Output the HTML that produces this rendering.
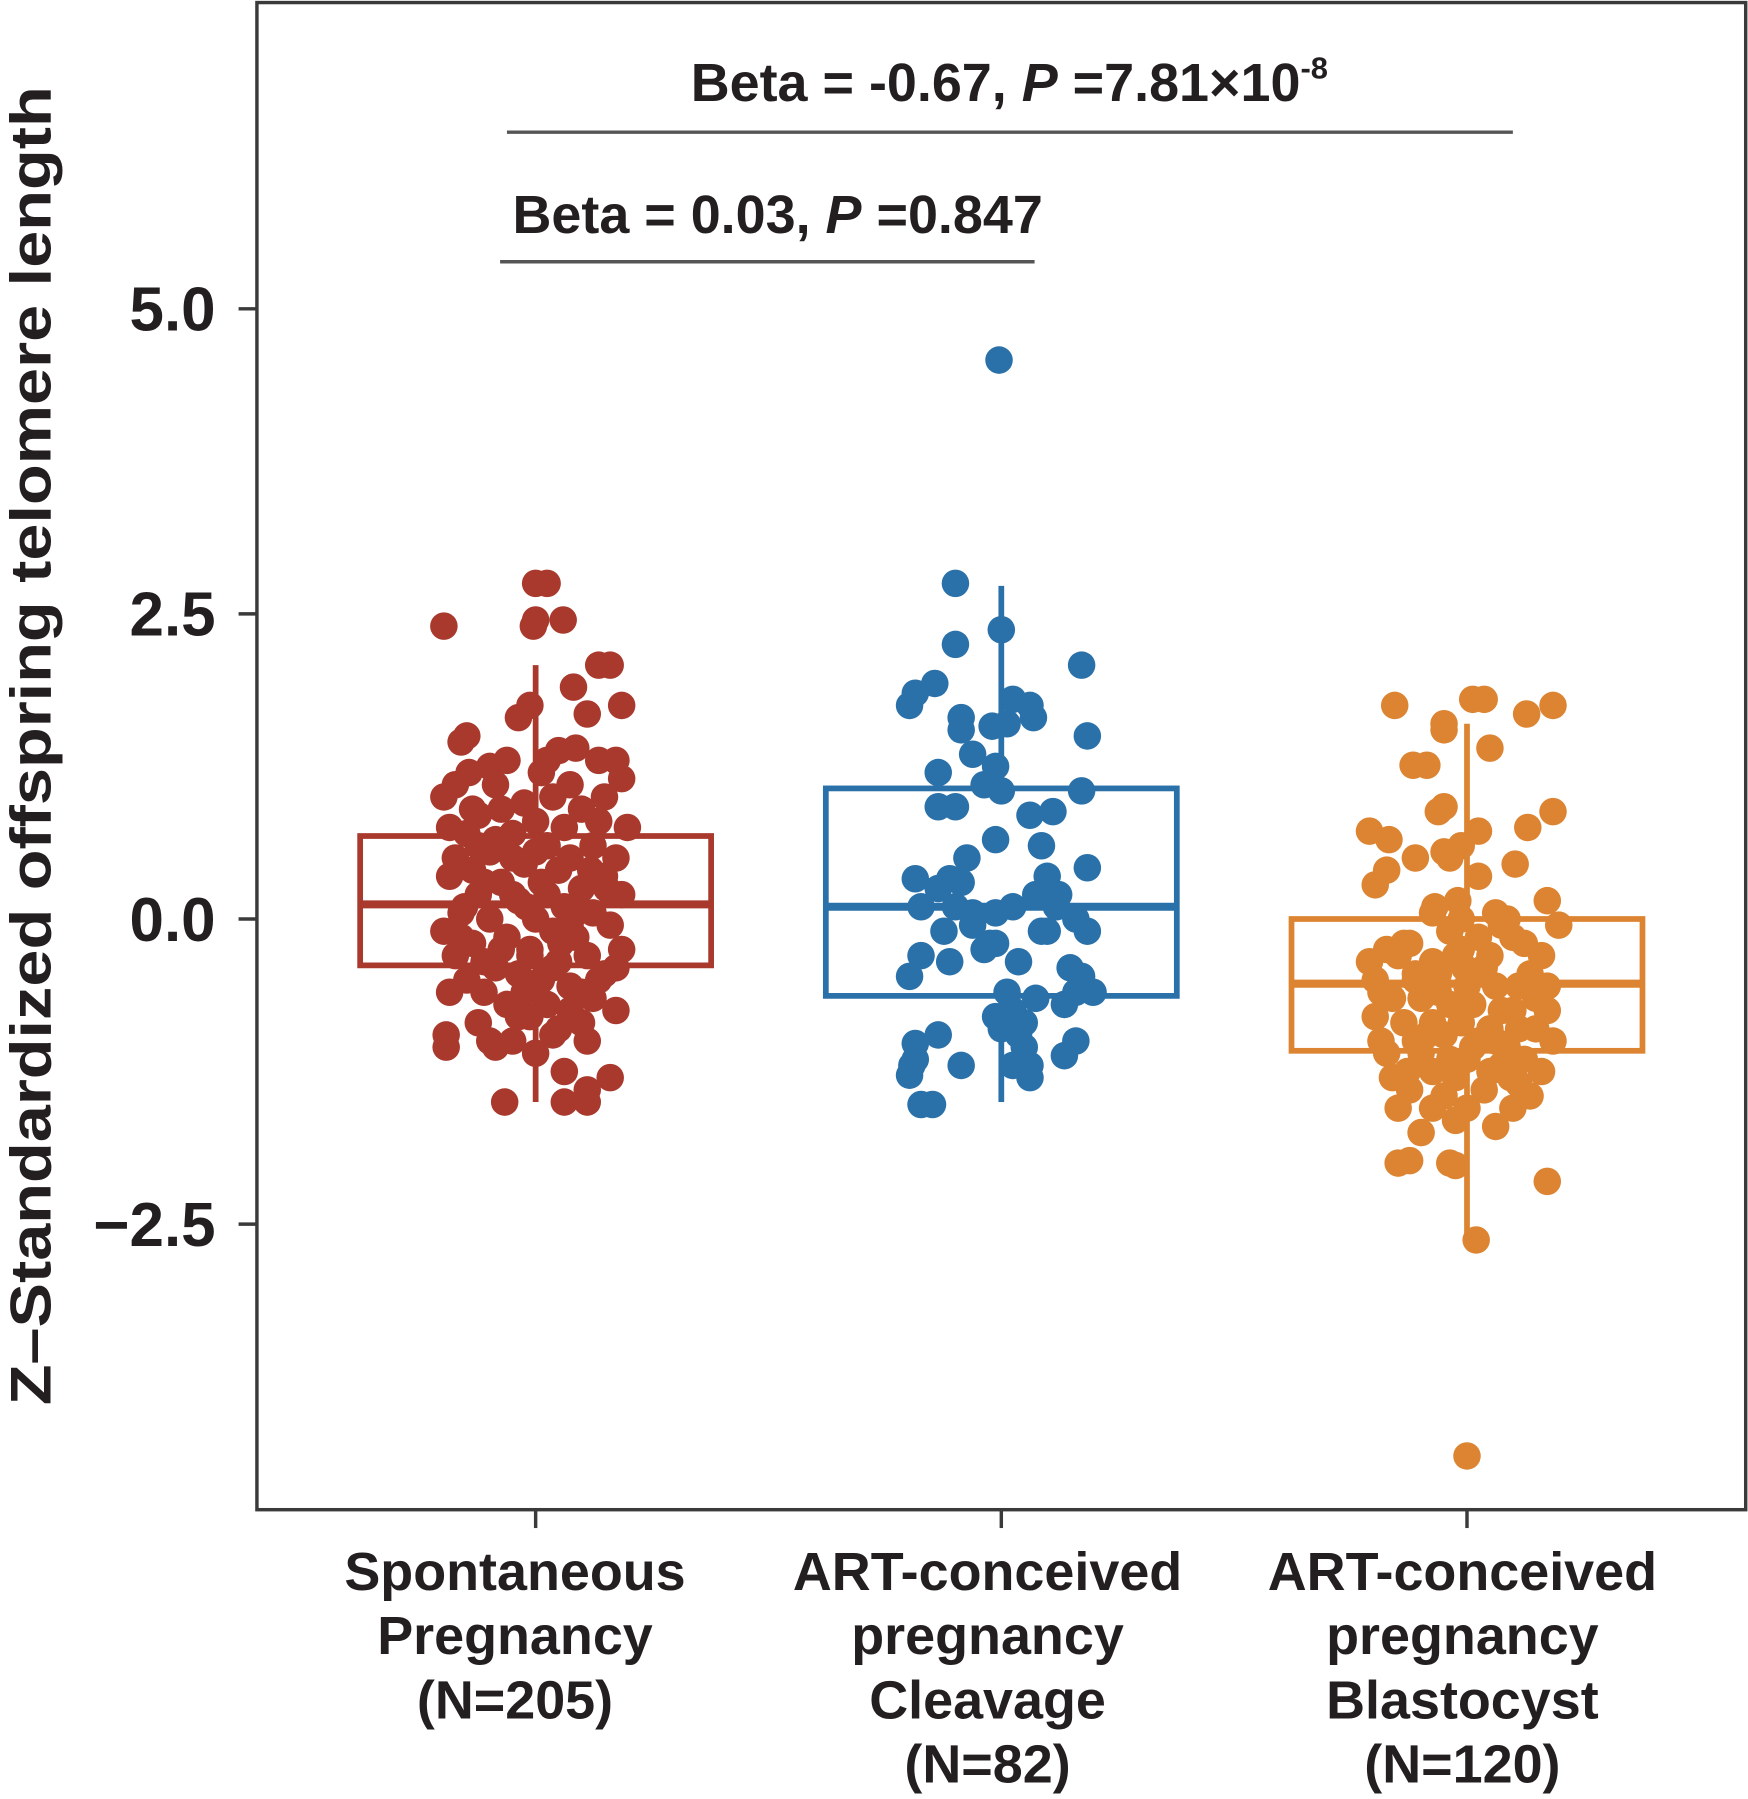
<!DOCTYPE html>
<html><head><meta charset="utf-8"><style>
html,body{margin:0;padding:0;background:#fff}
svg{display:block}
text{font-family:"Liberation Sans",Arial,sans-serif;font-weight:bold;fill:#231f20}
</style></head><body>
<svg id="chart" width="1748" height="1799" viewBox="0 0 1524 1568" xmlns="http://www.w3.org/2000/svg">
<rect x="224" y="2" width="1298" height="1314" fill="none" stroke="#3a3a3a" stroke-width="3"/>
<g id="yaxis"></g>
<g id="xaxis"></g>
<text transform="translate(44,650) rotate(-90)" text-anchor="middle" font-size="50" textLength="1150" lengthAdjust="spacingAndGlyphs">Z–Standardized offspring telomere length</text>
<g id="boxes"></g>
<g id="points"></g>
<g>
<line x1="442" y1="115" x2="1319" y2="115" stroke="#555" stroke-width="3"/>
<text x="880" y="88" text-anchor="middle" font-size="47">Beta = -0.67, <tspan font-style="italic">P</tspan> =7.81×10<tspan font-size="27" dy="-20">-8</tspan></text>
<line x1="436" y1="228" x2="902" y2="228" stroke="#555" stroke-width="3"/>
<text x="678" y="203" text-anchor="middle" font-size="47">Beta = 0.03, <tspan font-style="italic">P</tspan> =0.847</text>
</g>
</svg>
<script>
const categories=[["Spontaneous","Pregnancy","(N=205)"],["ART-conceived","pregnancy","Cleavage","(N=82)"],["ART-conceived","pregnancy","Blastocyst","(N=120)"]];
const colors=["#a9392d","#2a70a9","#dc8432"];
const yTicks=[5.0,2.5,0.0,-2.5];
const yTickLabels=["5.0","2.5","0.0","−2.5"];
const q1=[-0.38,-0.63,-1.08];
const medians=[0.12,0.1,-0.53];
const q3=[0.68,1.07,0.0];
const whiskLo=[-1.5,-1.5,-2.6];
const whiskHi=[2.08,2.73,1.6];
const redPts=[[-80,2.4],[0,2.75],[10,2.75],[-2,2.4],[0,2.45],[24,2.45],[55,2.08],[65,2.08],[33,1.9],[75,1.75],[-5,1.75],[-15,1.65],[45,1.68],[-60,1.5],[-65,1.45],[35,1.4],[20,1.38],[70,1.3],[55,1.3],[-40,1.25],[-25,1.3],[-35,1.1],[75,1.15],[60,1.0],[-80,1.0],[-70,1.1],[15,1.0],[-10,0.95],[40,0.9],[-50,0.85],[0,0.8],[25,0.75],[80,0.75],[-75,0.75],[-60,0.7],[-20,0.7],[10,0.6],[50,0.6],[-40,0.55],[-70,0.5],[30,0.5],[70,0.5],[-10,0.45],[-55,0.4],[20,0.4],[60,0.35],[-75,0.35],[-30,0.3],[5,0.3],[40,0.25],[-50,0.2],[75,0.2],[-15,0.15],[25,0.1],[-65,0.05],[50,0.05],[0,0.0],[-40,0.0],[65,-0.05],[-80,-0.1],[15,-0.1],[35,-0.15],[-25,-0.15],[-55,-0.2],[75,-0.25],[-5,-0.25],[45,-0.3],[-70,-0.3],[20,-0.35],[-35,-0.4],[60,-0.45],[-15,-0.45],[5,-0.5],[-60,-0.5],[30,-0.55],[-45,-0.6],[-75,-0.6],[50,-0.65],[10,-0.7],[-25,-0.7],[70,-0.75],[-5,-0.8],[40,-0.85],[-50,-0.85],[20,-0.9],[-78,-0.95],[-78,-1.05],[-40,-1.0],[-35,-1.05],[45,-1.0],[0,-1.1],[15,-0.95],[-20,-1.0],[25,-1.25],[65,-1.3],[45,-1.4],[-27,-1.5],[25,-1.5],[45,-1.5],[-55,0.9],[55,0.8],[-20,0.5],[35,0.05],[-5,-0.3],[10,0.2],[-45,0.3],[-30,-0.25],[30,-0.05],[-10,-0.6],[55,-0.5],[-62,0.1],[-30,0.9],[5,1.2],[30,1.1],[-50,0.6],[62,0.25],[-20,0.2],[15,-0.4],[-45,-0.35],[40,-0.6],[-65,-0.15],[0,0.55],[70,-0.4],[-35,0.65],[48,0.4],[-15,-0.8],[30,-0.75],[-58,1.2],[10,1.3],[22,-0.2],[-8,0.1]];
const bluePts=[[-2,4.58],[-40,2.75],[0,2.37],[-40,2.25],[70,2.08],[-58,1.93],[-75,1.85],[-80,1.75],[10,1.8],[25,1.75],[-35,1.65],[28,1.65],[-35,1.55],[-8,1.58],[5,1.6],[75,1.5],[-25,1.35],[-5,1.25],[-55,1.2],[-15,1.1],[0,1.05],[70,1.05],[-55,0.92],[-40,0.92],[25,0.85],[45,0.88],[-5,0.65],[35,0.6],[75,0.42],[-75,0.33],[-45,0.33],[-55,0.25],[-35,0.3],[40,0.35],[30,0.2],[50,0.2],[-70,0.1],[-40,0.1],[-25,0.05],[-5,0.05],[10,0.1],[65,0.0],[-50,-0.1],[-25,-0.05],[75,-0.1],[40,-0.1],[-10,-0.2],[-5,-0.2],[-70,-0.3],[-45,-0.35],[15,-0.35],[60,-0.4],[-80,-0.47],[70,-0.47],[30,-0.65],[55,-0.7],[65,-0.6],[10,-0.75],[20,-0.85],[-5,-0.8],[0,-0.9],[15,-0.95],[-55,-0.95],[-75,-1.02],[20,-1.05],[65,-1.0],[-75,-1.15],[-35,-1.2],[10,-1.2],[25,-1.2],[55,-1.12],[-80,-1.28],[25,-1.3],[-60,-1.52],[-70,-1.52],[-78,-1.2],[-15,-0.25],[35,-0.1],[-30,0.5],[5,-0.6],[80,-0.6],[48,0.1]];
const orangePts=[[-63,1.75],[5,1.8],[15,1.8],[75,1.75],[52,1.68],[-20,1.6],[-20,1.55],[20,1.4],[-47,1.26],[-35,1.26],[-25,0.88],[-20,0.92],[10,0.72],[53,0.75],[75,0.88],[-85,0.72],[-68,0.65],[-45,0.5],[-20,0.55],[-15,0.5],[42,0.45],[-80,0.28],[-70,0.4],[10,0.35],[-5,0.6],[-30,0.05],[-5,0.0],[25,0.05],[35,0.0],[-15,-0.1],[30,-0.05],[70,0.15],[80,-0.05],[-50,-0.2],[-70,-0.25],[40,-0.15],[-85,-0.35],[-60,-0.3],[-30,-0.35],[-10,-0.3],[20,-0.3],[55,-0.45],[-80,-0.5],[-45,-0.5],[-25,-0.45],[0,-0.55],[25,-0.55],[60,-0.65],[-65,-0.65],[-40,-0.65],[-15,-0.7],[5,-0.7],[40,-0.75],[70,-0.75],[-80,-0.8],[-55,-0.85],[-30,-0.85],[-5,-0.85],[20,-0.9],[45,-0.9],[-75,-1.0],[-45,-1.0],[-20,-0.95],[10,-1.0],[35,-1.05],[75,-1.0],[-70,-1.1],[-40,-1.1],[0,-1.15],[30,-1.2],[65,-1.25],[-30,-1.25],[-10,-1.3],[45,-1.35],[-50,-1.4],[-20,-1.45],[15,-1.4],[55,-1.45],[-60,-1.55],[-30,-1.55],[0,-1.55],[40,-1.55],[-40,-1.75],[-10,-1.65],[25,-1.7],[-60,-2.0],[-50,-1.98],[-15,-2.0],[-10,-2.02],[70,-2.15],[8,-2.63],[0,-4.4],[-55,-0.2],[50,-0.2],[-25,-0.6],[15,-0.4],[65,-0.3],[-75,-0.6],[-5,-0.25],[30,-0.75],[-35,-0.95],[50,-1.15],[5,-1.05],[-65,-1.3],[25,-1.0],[-45,-0.45],[10,-0.15],[-15,-1.15],[45,-0.55],[70,-0.55],[-28,0.1],[-8,0.15],[20,-1.25],[-52,-1.25],[38,-1.3],[-2,-0.4],[60,-0.9]];
const groups=[redPts,bluePts,orangePts];
const labelShift=[-18,-12,-4];
const ns="http://www.w3.org/2000/svg";
const yScale=v=>801-v*106.4;
const xCenter=i=>467+i*406;
function mk(tag,attrs,parent){const e=document.createElementNS(ns,tag);for(const k in attrs)e.setAttribute(k,attrs[k]);parent.appendChild(e);return e;}
const yA=document.getElementById('yaxis'),xA=document.getElementById('xaxis'),bx=document.getElementById('boxes'),pt=document.getElementById('points');
yTicks.forEach((v,i)=>{
 const l=mk('line',{x1:208,x2:224,y1:yScale(v),y2:yScale(v),stroke:'#3a3a3a','stroke-width':3},yA);
 
 
 const t=mk('text',{x:188,y:yScale(v)+19,'text-anchor':'end','font-size':54},yA);
 
 
 t.textContent=yTickLabels[i];
});
categories.forEach((c,i)=>{
 const x=xCenter(i);
 const l=mk('line',{x1:x,x2:x,y1:1316,y2:1332,stroke:'#3a3a3a','stroke-width':3},xA);
 
 
 c.forEach((s,j)=>{
  const t=mk('text',{x:x+labelShift[i],y:1386+j*56,'text-anchor':'middle','font-size':47},xA);
  
  
  t.textContent=s;
 });
 const g=mk('g',{},bx);
 
 
 const st={stroke:colors[i],'stroke-width':5,fill:'none'};
 mk('line',Object.assign({x1:x,x2:x,y1:yScale(whiskHi[i]),y2:yScale(q3[i])},st),g);
 mk('line',Object.assign({x1:x,x2:x,y1:yScale(q1[i]),y2:yScale(whiskLo[i])},st),g);
 mk('rect',Object.assign({x:x-153,width:306,y:yScale(q3[i]),height:yScale(q1[i])-yScale(q3[i])},st),g);
 mk('line',Object.assign({x1:x-153,x2:x+153,y1:yScale(medians[i]),y2:yScale(medians[i])},st,{'stroke-width':7}),g);
 groups[i].forEach(p=>{
  const d=mk('circle',{cx:x+p[0],cy:yScale(p[1]),r:12,fill:colors[i]},pt);
  
  
 });
});
</script>
</body></html>
